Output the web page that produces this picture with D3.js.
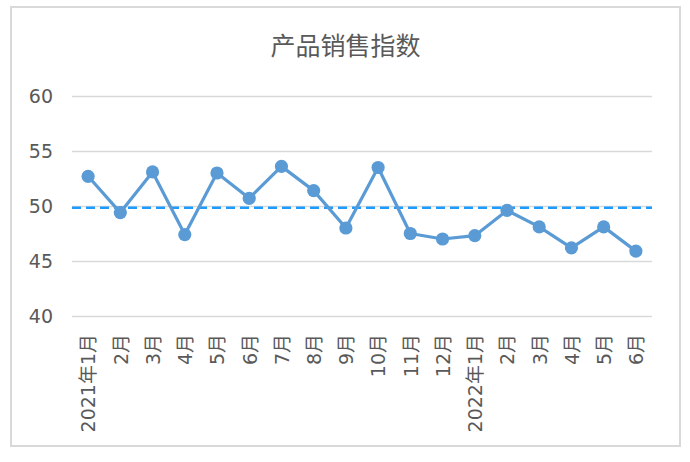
<!DOCTYPE html>
<html>
<head>
<meta charset="utf-8">
<script src="https://cdn.jsdelivr.net/npm/d3@7/dist/d3.min.js"></script>
<style>
  html, body { margin: 0; padding: 0; background: #fff; }
  svg { display: block; }
  text { font-family: "DejaVu Sans", "Noto Sans CJK SC", sans-serif; }
</style>
</head>
<body>
<svg id="chart" width="690" height="462"></svg>
<script>
const title = "产品销售指数";
const categories = ["2021年1月","2月","3月","4月","5月","6月","7月","8月","9月","10月","11月","12月",
                    "2022年1月","2月","3月","4月","5月","6月"];
const values = [52.7, 49.4, 53.1, 47.4, 53.0, 50.7, 53.6, 51.4, 48.0, 53.5, 47.5, 47.0,
                47.3, 49.6, 48.1, 46.2, 48.1, 45.9];
const referenceValue = 49.85;
const yTicks = [40, 45, 50, 55, 60];

const svg = d3.select("#chart");
const W = 690, H = 462;
const plot = { left: 72, right: 652, top: 96, bottom: 316 };

svg.append("rect").attr("width", W).attr("height", H).attr("fill", "#fff");
svg.append("rect")
  .attr("x", 11).attr("y", 7).attr("width", 669).attr("height", 439)
  .attr("fill", "#fff").attr("stroke", "#d9d9d9").attr("stroke-width", 2);

svg.append("text")
  .attr("x", 345.5).attr("y", 55)
  .attr("text-anchor", "middle")
  .attr("fill", "#595959")
  .style("font-family", "'Noto Sans CJK SC', sans-serif")
  .style("font-size", "25px")
  .text(title);

const x = d3.scalePoint()
  .domain(d3.range(categories.length))
  .range([plot.left, plot.right])
  .padding(0.5);

const y = d3.scaleLinear()
  .domain([40, 60])
  .range([plot.bottom, plot.top]);

// Y axis with gridlines
const yAxis = svg.append("g")
  .attr("transform", `translate(${plot.left},0)`)
  .call(d3.axisLeft(y).tickValues(yTicks).tickSize(-(plot.right - plot.left)).tickPadding(19));
yAxis.select(".domain").remove();
yAxis.selectAll(".tick line").attr("stroke", "#d9d9d9").attr("stroke-width", 1.5);
yAxis.selectAll(".tick text")
  .attr("fill", "#595959")
  .style("font-size", "19px");

// X axis labels (rotated)
const xAxis = svg.append("g")
  .attr("transform", `translate(0,${plot.bottom})`)
  .call(d3.axisBottom(x).tickSize(0).tickFormat(i => categories[i]));
xAxis.select(".domain").remove();
xAxis.selectAll(".tick text")
  .attr("fill", "#595959")
  .style("font-size", "19px")
  .attr("text-anchor", "end")
  .attr("transform", "rotate(-90)")
  .attr("x", -18)
  .attr("y", 0)
  .attr("dy", "0.36em");

// Reference dashed line
svg.append("line")
  .attr("x1", plot.left).attr("x2", plot.right)
  .attr("y1", y(referenceValue)).attr("y2", y(referenceValue))
  .attr("stroke", "#1e9bff")
  .attr("stroke-width", 2.5)
  .attr("stroke-dasharray", "9,5");

// Series line
const line = d3.line()
  .x((d, i) => x(i))
  .y(d => y(d));

svg.append("path")
  .datum(values)
  .attr("d", line)
  .attr("fill", "none")
  .attr("stroke", "#5b9bd5")
  .attr("stroke-width", 3.2)
  .attr("stroke-linejoin", "round");

svg.append("g")
  .selectAll("circle")
  .data(values)
  .join("circle")
  .attr("cx", (d, i) => x(i))
  .attr("cy", d => y(d))
  .attr("r", 6.6)
  .attr("fill", "#5b9bd5");
</script>
</body>
</html>
